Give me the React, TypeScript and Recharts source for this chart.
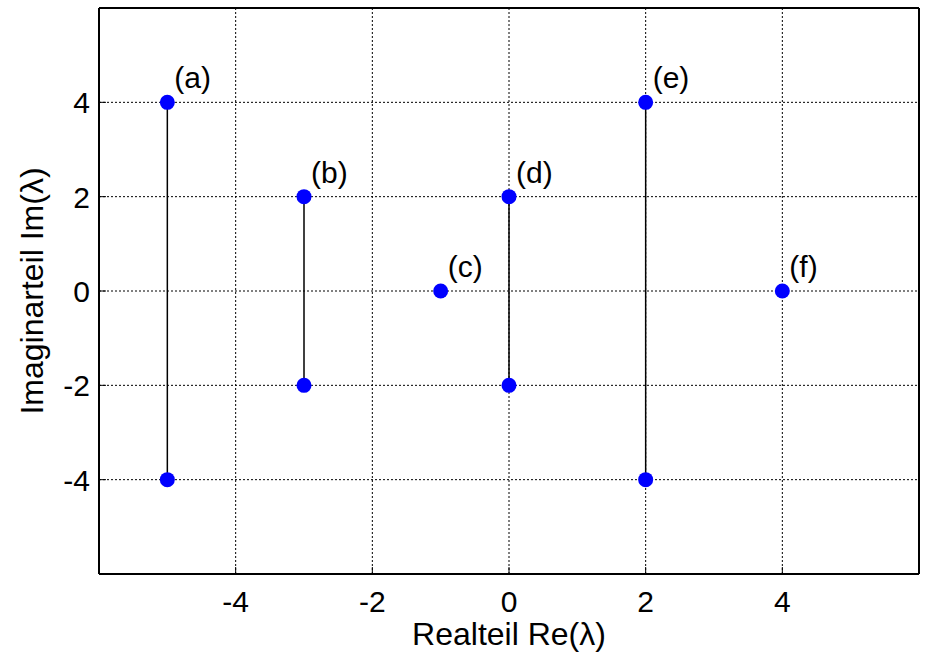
import React from "react";
import { ScatterChart, Scatter, XAxis, YAxis, CartesianGrid, LabelList } from "recharts";

// Eigenwerte: Realteil, Imaginärteil (±) und Bezeichnung
const realParts = [-5, -3, -1, 0, 2, 4];
const imagParts = [4, 2, 0, 2, 4, 0];
const poleLabels = ["(a)", "(b)", "(c)", "(d)", "(e)", "(f)"];
const xTicks = [-4, -2, 0, 2, 4];
const yTicks = [-4, -2, 0, 2, 4];

const FONT = "'Liberation Sans', Arial, sans-serif";
const FS = 30;
const TITLE_FS = 32;

const groups = realParts.map((re, i) => {
  const im = imagParts[i];
  const pts = im === 0 ? [{ x: re, y: 0, label: poleLabels[i] }] : [{ x: re, y: im, label: poleLabels[i] }, { x: re, y: -im, label: "" }];
  return pts;
});

const Dot = (p: any) => <circle cx={p.cx} cy={p.cy} r={7.5} fill="#0000ff" />;

const PoleLabel = (p: any) =>
  p.value ? (
    <text x={p.x + p.width / 2 + 7} y={p.y + p.height / 2 - 14} fontSize={FS} fontFamily={FONT} fill="#000">
      {p.value}
    </text>
  ) : null;

const BottomTick = (p: any) => (
  <g>
    <line x1={p.x} x2={p.x} y1={p.y} y2={p.y - 7} stroke="#000" strokeWidth={1} />
    <text x={p.x} y={p.y + 38} textAnchor="middle" fontSize={FS} fontFamily={FONT} fill="#000">
      {p.payload.value}
    </text>
  </g>
);
const TopTick = (p: any) => <line x1={p.x} x2={p.x} y1={p.y} y2={p.y + 7} stroke="#000" strokeWidth={1} />;
const LeftTick = (p: any) => (
  <g>
    <line x1={p.x} x2={p.x + 7} y1={p.y} y2={p.y} stroke="#000" strokeWidth={1} />
    <text x={p.x - 9} y={p.y + 11} textAnchor="end" fontSize={FS} fontFamily={FONT} fill="#000">
      {p.payload.value}
    </text>
  </g>
);
const RightTick = (p: any) => <line x1={p.x} x2={p.x - 7} y1={p.y} y2={p.y} stroke="#000" strokeWidth={1} />;

const YTitle = (p: any) => {
  const cy = p.viewBox.y + p.viewBox.height / 2;
  return (
    <text x={43} y={cy} transform={`rotate(-90, 43, ${cy})`} textAnchor="middle" fontSize={TITLE_FS} fontFamily={FONT} fill="#000">
      Imaginarteil Im(λ)
    </text>
  );
};

export default function App() {
  return (
    <div style={{ position: "absolute", left: 0, top: 0, background: "#fff" }}>
      <ScatterChart width={925} height={656} margin={{ top: 7, right: 5, left: 0, bottom: 0 }}>
        <CartesianGrid stroke="#000" strokeDasharray="2 2" strokeWidth={1} horizontalValues={yTicks} verticalValues={xTicks} />
        <XAxis type="number" dataKey="x" domain={[-6, 6]} ticks={xTicks} height={82} tickSize={0} tickMargin={0}
          axisLine={{ stroke: "#000", strokeWidth: 2 }} tick={<BottomTick />}
          label={{ value: "Realteil Re(λ)", position: "insideBottom", offset: 11, fontSize: TITLE_FS, fontFamily: FONT, fill: "#000" }} />
        <XAxis xAxisId="top" orientation="top" type="number" dataKey="x" domain={[-6, 6]} ticks={xTicks} height={1}
          tickSize={0} tickMargin={0} axisLine={{ stroke: "#000", strokeWidth: 2 }} tick={<TopTick />} />
        <YAxis type="number" dataKey="y" domain={[-6, 6]} ticks={yTicks} width={99} tickSize={0} tickMargin={0}
          axisLine={{ stroke: "#000", strokeWidth: 2 }} tick={<LeftTick />} label={<YTitle />} />
        <YAxis yAxisId="right" orientation="right" type="number" dataKey="y" domain={[-6, 6]} ticks={yTicks} width={1}
          tickSize={0} tickMargin={0} axisLine={{ stroke: "#000", strokeWidth: 2 }} tick={<RightTick />} />
        {groups.map((g, i) => (
          <Scatter key={i} data={g} fill="#0000ff" line={{ stroke: "#000", strokeWidth: 1.5 }} shape={<Dot />} isAnimationActive={false}>
            <LabelList dataKey="label" content={<PoleLabel />} />
          </Scatter>
        ))}
      </ScatterChart>
    </div>
  );
}
